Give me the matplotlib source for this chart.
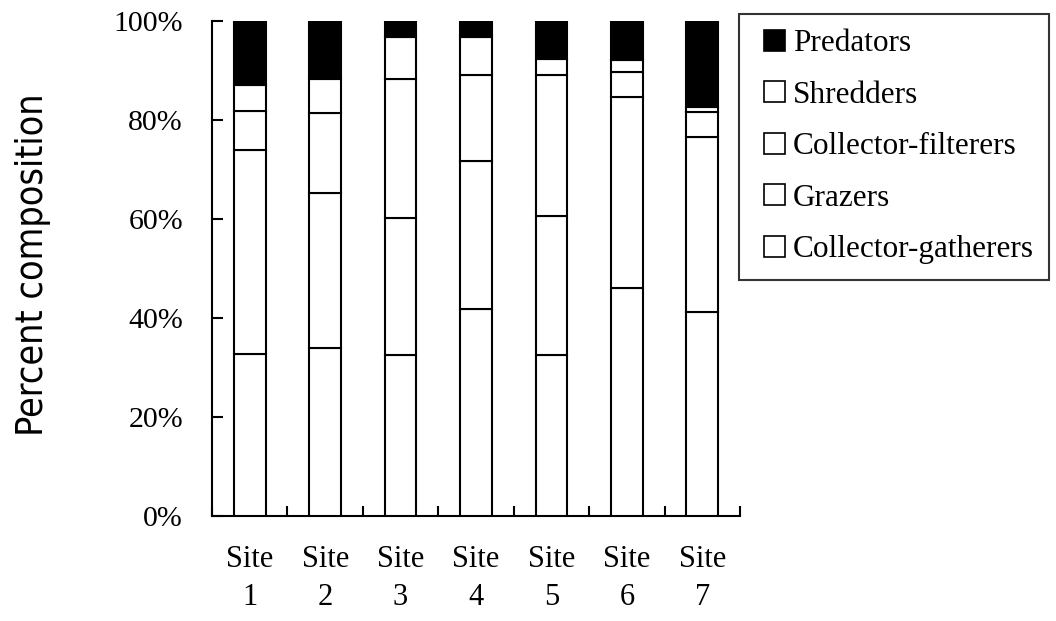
import matplotlib
matplotlib.use("Agg")
import matplotlib.pyplot as plt
from matplotlib.ticker import FixedLocator, PercentFormatter
from matplotlib.legend_handler import HandlerPatch
from matplotlib.patches import Rectangle
import numpy as np

# Functional feeding group composition (%) at each site
sites = ["Site\n1", "Site\n2", "Site\n3", "Site\n4", "Site\n5", "Site\n6", "Site\n7"]
collector_gatherers = [32.8, 34.0, 32.5, 41.8, 32.5, 46.0, 41.3]
grazers = [41.2, 31.2, 27.6, 30.0, 28.1, 38.7, 35.3]
collector_filterers = [7.9, 16.3, 28.1, 17.2, 28.4, 4.9, 5.0]
shredders = [5.1, 6.7, 8.6, 7.7, 3.3, 2.6, 1.1]
predators = [13.0, 11.8, 3.2, 3.3, 7.7, 7.8, 17.3]

groups = [
    ("Collector-gatherers", collector_gatherers, "white"),
    ("Grazers", grazers, "white"),
    ("Collector-filterers", collector_filterers, "white"),
    ("Shredders", shredders, "white"),
    ("Predators", predators, "black"),
]

serif = ["Liberation Serif", "DejaVu Serif"]
plt.rcParams["font.family"] = serif

fig = plt.figure(figsize=(10.56, 6.21), dpi=100)
ax = fig.add_axes([0.2008, 0.1691, 0.5, 0.7971])

x = np.arange(len(sites))
bottom = np.zeros(len(sites))
containers = []
for name, vals, color in groups:
    vals = np.asarray(vals, dtype=float)
    b = ax.bar(x, vals, width=0.42, bottom=bottom, color=color,
               edgecolor="black", linewidth=1.5, label=name, zorder=3)
    containers.append(b)
    bottom += vals

ax.set_xlim(-0.5, len(sites) - 0.5)
ax.set_ylim(0, 100)

for side in ("top", "right"):
    ax.spines[side].set_visible(False)
for side in ("left", "bottom"):
    ax.spines[side].set_linewidth(1.5)

# y axis: inward ticks every 20 %
ax.set_yticks(np.arange(0, 101, 20))
ax.yaxis.set_major_formatter(PercentFormatter(100, decimals=0))
ax.tick_params(axis="y", direction="in", length=8, width=1.5,
               labelsize=21.5, pad=21)

# x axis: labels under bars, tick marks on category boundaries
ax.set_xticks(x)
ax.set_xticklabels(sites, linespacing=1.42)
ax.tick_params(axis="x", which="major", length=0, labelsize=22, pad=21)
ax.xaxis.set_minor_locator(FixedLocator(np.arange(-0.5, len(sites), 1.0)))
ax.tick_params(axis="x", which="minor", direction="in", length=7.5, width=1.5)

fig.text(0.031, 0.573, "Percent composition", rotation=90,
         ha="center", va="center", fontsize=27,
         family="DejaVu Sans", stretch="condensed")


# square legend keys sitting at the right end of the handle box
def square_key(legend, orig_handle, xdescent, ydescent, width, height, fontsize):
    return Rectangle((-xdescent + width - height, -ydescent), height, height)


key_patches = [c.patches[0] for c in containers][::-1]
leg = fig.legend(key_patches, [g[0] for g in groups][::-1],
                 loc="upper left", bbox_to_anchor=(0.6998, 0.978),
                 fontsize=22.5, frameon=True, fancybox=False,
                 handlelength=0.97, handleheight=0.67, handletextpad=0.25,
                 labelspacing=0.72, borderpad=0.5, borderaxespad=0,
                 handler_map={Rectangle: HandlerPatch(patch_func=square_key)})
leg.get_frame().set_edgecolor("black")
leg.get_frame().set_linewidth(1.5)
for h in leg.legend_handles:
    h.set_linewidth(1.2)

fig.savefig("out.png", dpi=100)
